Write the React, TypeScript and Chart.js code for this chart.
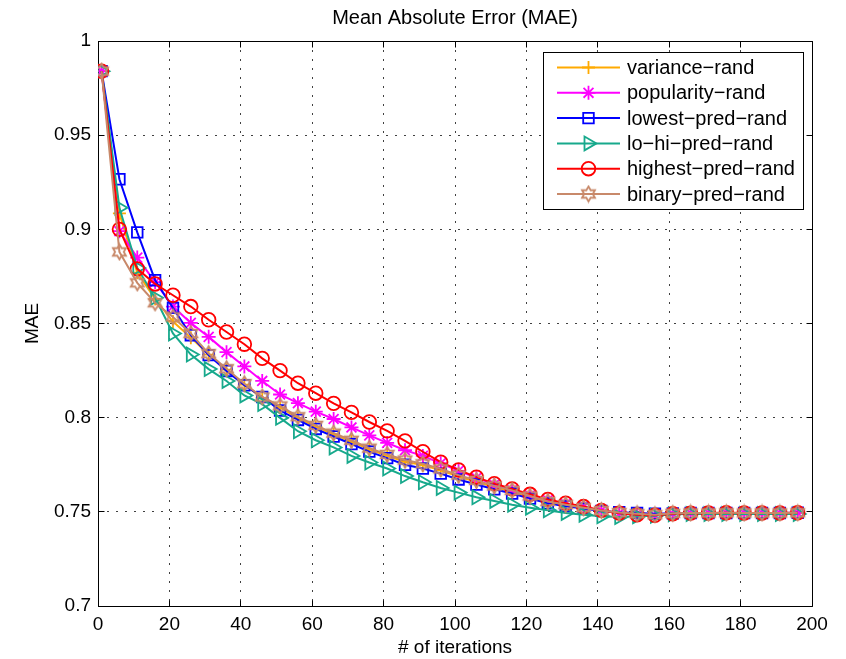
import React, { useEffect, useRef } from 'react';
import { Chart, registerables } from 'chart.js';
import { drawPoint } from 'chart.js/helpers';

Chart.register(...registerables);

const FONT = '"Liberation Sans", Arial, Helvetica, sans-serif';

const iterations = [
  1, 6, 11, 16, 21, 26, 31, 36, 41, 46,
  51, 56, 61, 66, 71, 76, 81, 86, 91, 96,
  101, 106, 111, 116, 121, 126, 131, 136, 141, 146,
  151, 156, 161, 166, 171, 176, 181, 186, 191, 196,
];

const varianceRand = [
  0.984, 0.9085, 0.877, 0.863, 0.851, 0.8425, 0.8335, 0.8255, 0.8175, 0.8105,
  0.8055, 0.7998, 0.7952, 0.7912, 0.7873, 0.7832, 0.7798, 0.7766, 0.7748, 0.772,
  0.7688, 0.766, 0.7632, 0.7608, 0.758, 0.7552, 0.7536, 0.752, 0.7505, 0.7495,
  0.7489, 0.7484, 0.7491, 0.7493, 0.7493, 0.7494, 0.7493, 0.7493, 0.7493, 0.7494,
];

const popularityRand = [
  0.984, 0.899, 0.885, 0.872, 0.859, 0.8503, 0.8429, 0.8348, 0.8272, 0.8195,
  0.8123, 0.8077, 0.8032, 0.7993, 0.7948, 0.7906, 0.7866, 0.7827, 0.7797, 0.7758,
  0.7718, 0.768, 0.7645, 0.7615, 0.7588, 0.7562, 0.7542, 0.7525, 0.7507, 0.7493,
  0.7486, 0.7482, 0.749, 0.7493, 0.7494, 0.7494, 0.7494, 0.7494, 0.7494, 0.7495,
];

const lowestPredRand = [
  0.984, 0.9266, 0.8984, 0.873, 0.8583, 0.8438, 0.8332, 0.8248, 0.8172, 0.811,
  0.8038, 0.7988, 0.794, 0.79, 0.786, 0.782, 0.7785, 0.775, 0.773, 0.7703,
  0.7672, 0.7645, 0.762, 0.7597, 0.757, 0.7545, 0.753, 0.7517, 0.7505, 0.7498,
  0.7494, 0.749, 0.7492, 0.7494, 0.7494, 0.7494, 0.7494, 0.7494, 0.7494, 0.7495,
];

const loHiPredRand = [
  0.984, 0.9115, 0.8795, 0.8637, 0.8447, 0.8335, 0.8258, 0.8195, 0.8118, 0.8072,
  0.7999, 0.7928, 0.788, 0.7842, 0.7797, 0.7762, 0.773, 0.769, 0.7657, 0.7627,
  0.7602, 0.7577, 0.7558, 0.7538, 0.7522, 0.7508, 0.7494, 0.7484, 0.7476, 0.7472,
  0.7476, 0.7479, 0.7487, 0.7488, 0.7488, 0.7488, 0.7488, 0.7488, 0.7488, 0.7488,
];

const highestPredRand = [
  0.984, 0.9, 0.879, 0.871, 0.865, 0.859, 0.852, 0.8455, 0.839, 0.8315,
  0.825, 0.8183, 0.813, 0.8076, 0.8028, 0.7977, 0.793, 0.7877, 0.7819, 0.7764,
  0.7723, 0.7684, 0.765, 0.7622, 0.7593, 0.7566, 0.7546, 0.7528, 0.7508, 0.7493,
  0.7484, 0.7482, 0.749, 0.7493, 0.7494, 0.7495, 0.7494, 0.7494, 0.7494, 0.7495,
];

const binaryPredRand = [
  0.984, 0.888, 0.8716, 0.861, 0.8535, 0.8447, 0.834, 0.826, 0.818, 0.811,
  0.8062, 0.8005, 0.7959, 0.7918, 0.788, 0.7838, 0.7805, 0.7775, 0.7755, 0.7728,
  0.7695, 0.7667, 0.7637, 0.7614, 0.7584, 0.7555, 0.7538, 0.7522, 0.7507, 0.7496,
  0.749, 0.7485, 0.7492, 0.7494, 0.7494, 0.7495, 0.7494, 0.7494, 0.7494, 0.7495,
];

const seriesLabels = [
  'variance−rand',
  'popularity−rand',
  'lowest−pred−rand',
  'lo−hi−pred−rand',
  'highest−pred−rand',
  'binary−pred−rand',
];

const xTicks = [0, 20, 40, 60, 80, 100, 120, 140, 160, 180, 200];
const yTicks = [0.7, 0.75, 0.8, 0.85, 0.9, 0.95, 1];
const yTickLabels = ['0.7', '0.75', '0.8', '0.85', '0.9', '0.95', '1'];

const chartTitle = 'Mean Absolute Error (MAE)';
const xTitle = '# of iterations';
const yTitle = 'MAE';

function makeHexagram(color: string, r: number) {
  const size = Math.ceil(r * 2 + 4);
  const c = document.createElement('canvas');
  c.width = size;
  c.height = size;
  const ctx = c.getContext('2d')!;
  const cx = size / 2;
  const cy = size / 2;
  const ri = r / Math.sqrt(3);
  ctx.beginPath();
  for (let i = 0; i < 12; i++) {
    const ang = -Math.PI / 2 + (i * Math.PI) / 6;
    const rr = i % 2 === 0 ? r : ri;
    const px = cx + rr * Math.cos(ang);
    const py = cy + rr * Math.sin(ang);
    if (i === 0) ctx.moveTo(px, py);
    else ctx.lineTo(px, py);
  }
  ctx.closePath();
  ctx.strokeStyle = color;
  ctx.lineWidth = 1.8;
  ctx.stroke();
  return c;
}

const align = (v: number) => Math.round(v - 0.5) + 0.5;

export default function App() {
  const ref = useRef<HTMLCanvasElement | null>(null);

  useEffect(() => {
    const canvas = ref.current;
    if (!canvas) return;

    const brown = '#C8896A';
    const hex = makeHexagram(brown, 7.5);

    const series = [
      { data: varianceRand, color: '#FFAA00', style: 'cross' as any, radius: 6.5, rotation: 0 },
      { data: popularityRand, color: '#FF00FF', style: 'star' as any, radius: 7, rotation: 0 },
      { data: lowestPredRand, color: '#0000FF', style: 'rect' as any, radius: 7.5, rotation: 0 },
      { data: loHiPredRand, color: '#17A98C', style: 'triangle' as any, radius: 8, rotation: 90 },
      { data: highestPredRand, color: '#FF0000', style: 'circle' as any, radius: 6.8, rotation: 0 },
      { data: binaryPredRand, color: brown, style: hex as any, radius: 7, rotation: 0 },
    ];

    const datasets = series.map((s, i) => ({
      label: seriesLabels[i],
      data: iterations.map((x, k) => ({ x, y: s.data[k] })),
      borderColor: s.color,
      backgroundColor: s.color,
      borderWidth: 2,
      pointStyle: s.style,
      pointRadius: s.radius,
      pointRotation: s.rotation,
      pointBorderColor: s.color,
      pointBackgroundColor: 'rgba(0,0,0,0)',
      pointBorderWidth: 1.8,
      tension: 0,
      fill: false,
      order: series.length - i,
    }));

    const framePlugin = {
      id: 'frame',
      beforeDatasetsDraw(chart: any) {
        const { ctx, chartArea } = chart;
        const { left, right, top, bottom } = chartArea;
        const xs = chart.scales.x;
        const ys = chart.scales.y;
        ctx.save();
        ctx.strokeStyle = '#000';
        ctx.lineWidth = 1;
        ctx.beginPath();
        const L = align(left), R = align(right), T = align(top), B = align(bottom);
        ctx.rect(L, T, R - L, B - T);
        const tl = 6;
        xTicks.forEach((v) => {
          const px = align(xs.getPixelForValue(v));
          ctx.moveTo(px, B);
          ctx.lineTo(px, B - tl);
          ctx.moveTo(px, T);
          ctx.lineTo(px, T + tl);
        });
        yTicks.forEach((v) => {
          const py = align(ys.getPixelForValue(v));
          ctx.moveTo(L, py);
          ctx.lineTo(L + tl, py);
          ctx.moveTo(R, py);
          ctx.lineTo(R - tl, py);
        });
        ctx.stroke();
        ctx.restore();
      },
      afterDraw(chart: any) {
        const { ctx, chartArea } = chart;
        ctx.save();
        ctx.fillStyle = '#000';
        ctx.font = `20px ${FONT}`;
        ctx.textAlign = 'center';
        ctx.textBaseline = 'middle';
        ctx.fillText(chartTitle, (chartArea.left + chartArea.right) / 2, 18);

        const bx = 543.5, by = 52.5, bw = 260, bh = 157;
        ctx.fillStyle = '#fff';
        ctx.fillRect(bx, by, bw, bh);
        ctx.strokeStyle = '#000';
        ctx.lineWidth = 1;
        ctx.strokeRect(bx, by, bw, bh);
        const rowY0 = 67.5;
        const rowH = 25.3;
        series.forEach((s, i) => {
          const yy = rowY0 + i * rowH;
          ctx.strokeStyle = s.color;
          ctx.lineWidth = 2;
          ctx.beginPath();
          ctx.moveTo(557, yy);
          ctx.lineTo(620, yy);
          ctx.stroke();
          ctx.fillStyle = 'rgba(0,0,0,0)';
          ctx.lineWidth = 1.8;
          drawPoint(ctx, { pointStyle: s.style, rotation: s.rotation, radius: s.radius, borderWidth: 1.8 } as any, 588.5, yy);
          ctx.fillStyle = '#000';
          ctx.font = `20px ${FONT}`;
          ctx.textAlign = 'left';
          ctx.textBaseline = 'middle';
          ctx.fillText(seriesLabels[i], 627, yy + 1);
        });
        ctx.restore();
      },
    };

    const chart = new Chart(canvas, {
      type: 'line',
      data: { datasets: datasets as any },
      options: {
        animation: false,
        responsive: false,
        maintainAspectRatio: false,
        layout: { padding: { left: 0, right: 34, top: 41, bottom: 0 } },
        plugins: {
          legend: { display: false },
          tooltip: { enabled: false },
          title: { display: false },
        },
        scales: {
          x: {
            type: 'linear',
            min: 0,
            max: 200,
            afterBuildTicks: (scale: any) => {
              scale.ticks = xTicks.map((v) => ({ value: v }));
            },
            afterFit: (scale: any) => {
              scale.height = 53;
            },
            ticks: {
              color: '#000',
              font: { family: FONT, size: 19 },
              padding: 7,
              maxRotation: 0,
              autoSkip: false,
              callback: (v: any) => String(v),
            },
            grid: {
              color: 'rgba(0,0,0,0.75)',
              lineWidth: 1,
              drawTicks: false,
            },
            border: { display: false, dash: [2, 7] },
            title: {
              display: true,
              text: xTitle,
              color: '#000',
              font: { family: FONT, size: 19 },
              padding: { top: 0, bottom: 0 },
            },
          },
          y: {
            type: 'linear',
            min: 0.7,
            max: 1,
            afterBuildTicks: (scale: any) => {
              scale.ticks = yTicks.map((v) => ({ value: v }));
            },
            afterFit: (scale: any) => {
              scale.width = 98;
            },
            ticks: {
              color: '#000',
              font: { family: FONT, size: 19 },
              padding: 7,
              autoSkip: false,
              callback: (v: any) => {
                const idx = yTicks.findIndex((t) => Math.abs(t - v) < 1e-9);
                return idx >= 0 ? yTickLabels[idx] : '';
              },
            },
            grid: {
              color: 'rgba(0,0,0,0.75)',
              lineWidth: 1,
              drawTicks: false,
            },
            border: { display: false, dash: [2, 7] },
            title: {
              display: true,
              text: yTitle,
              color: '#000',
              font: { family: FONT, size: 19 },
              padding: { top: 21, bottom: 0 },
            },
          },
        },
      },
      plugins: [framePlugin],
    });

    return () => {
      chart.destroy();
    };
  }, []);

  return (
    <div style={{ position: 'absolute', left: 0, top: 0, width: 846, height: 659, background: '#fff' }}>
      <canvas ref={ref} width={846} height={659} style={{ display: 'block', width: 846, height: 659 }} />
    </div>
  );
}
